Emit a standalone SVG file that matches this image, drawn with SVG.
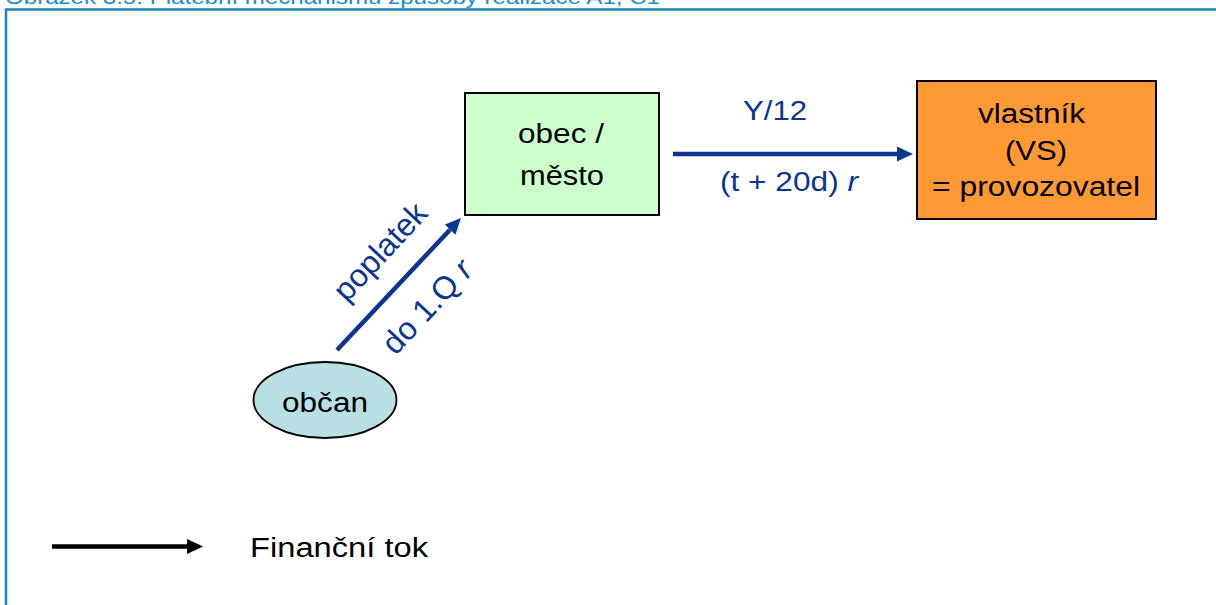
<svg xmlns="http://www.w3.org/2000/svg" width="1216" height="605" viewBox="0 0 1216 605">
<defs>
<style>
.t{font-family:"Liberation Sans",Arial,sans-serif;font-size:27px;fill:#000}
.b{fill:#0b3590}
.r{font-size:32px}
.box{stroke:#000;stroke-width:2}
.c{stroke-width:4.5;fill:none}
</style>
<marker id="ab" markerWidth="16" markerHeight="15" refX="0" refY="7.5" orient="auto" markerUnits="userSpaceOnUse"><path d="M0,0 L16,7.5 L0,15 z" fill="#0b3590"/></marker>
<marker id="ak" markerWidth="16" markerHeight="15" refX="0" refY="7.5" orient="auto" markerUnits="userSpaceOnUse"><path d="M0,0 L16,7.5 L0,15 z" fill="#000"/></marker>
</defs>
<rect width="1216" height="605" fill="#fff"/>
<text x="5" y="4" font-family="Liberation Sans,Arial,sans-serif" font-size="20" fill="#1a8fc8" textLength="655" lengthAdjust="spacingAndGlyphs">Obrázek 3.5: Platební mechanismu způsoby realizace A1, C1</text>
<path d="M6,605 V9.5 H1216" fill="none" stroke="#1b85b8" stroke-width="2.5"/>
<g id="connectors">
<path class="c" d="M673,154 H897" stroke="#0b3590" marker-end="url(#ab)"/>
<path class="c" d="M337,350 L450,229.7" stroke="#0b3590" marker-end="url(#ab)"/>
<path class="c" d="M52,546.5 H187" stroke="#000" marker-end="url(#ak)"/>
<text class="t b" x="775" y="120" text-anchor="middle" textLength="64" lengthAdjust="spacingAndGlyphs">Y/12</text>
<text class="t b" x="789" y="191" text-anchor="middle" textLength="138" lengthAdjust="spacingAndGlyphs">(t + 20d) <tspan font-style="italic">r</tspan></text>
<text class="t b r" transform="translate(388,259) rotate(-47)" text-anchor="middle">poplatek</text>
<text class="t b r" transform="translate(435,314) rotate(-47)" text-anchor="middle">do 1.Q <tspan font-style="italic">r</tspan></text>
</g>
<g id="obec">
<rect class="box" x="465" y="93" width="194" height="122" fill="#ccffcc"/>
<text class="t" x="561" y="143" text-anchor="middle" textLength="86" lengthAdjust="spacingAndGlyphs">obec /</text>
<text class="t" x="562" y="185" text-anchor="middle" textLength="84" lengthAdjust="spacingAndGlyphs">město</text>
</g>
<g id="vlastnik">
<rect class="box" x="917" y="81" width="239" height="138" fill="#ff9933"/>
<text class="t" x="1031.5" y="123" text-anchor="middle" textLength="107" lengthAdjust="spacingAndGlyphs">vlastník</text>
<text class="t" x="1036" y="160" text-anchor="middle" textLength="62" lengthAdjust="spacingAndGlyphs">(VS)</text>
<text class="t" x="1036" y="196" text-anchor="middle" textLength="208" lengthAdjust="spacingAndGlyphs">= provozovatel</text>
</g>
<g id="obcan">
<ellipse cx="325" cy="400" rx="71.5" ry="38" fill="#b8e0e4" stroke="#000" stroke-width="1.8"/>
<text class="t" x="325" y="412" text-anchor="middle" textLength="86" lengthAdjust="spacingAndGlyphs">občan</text>
</g>
<g id="legend">
<text class="t" x="250" y="556.5" textLength="178" lengthAdjust="spacingAndGlyphs">Finanční tok</text>
</g>
</svg>
